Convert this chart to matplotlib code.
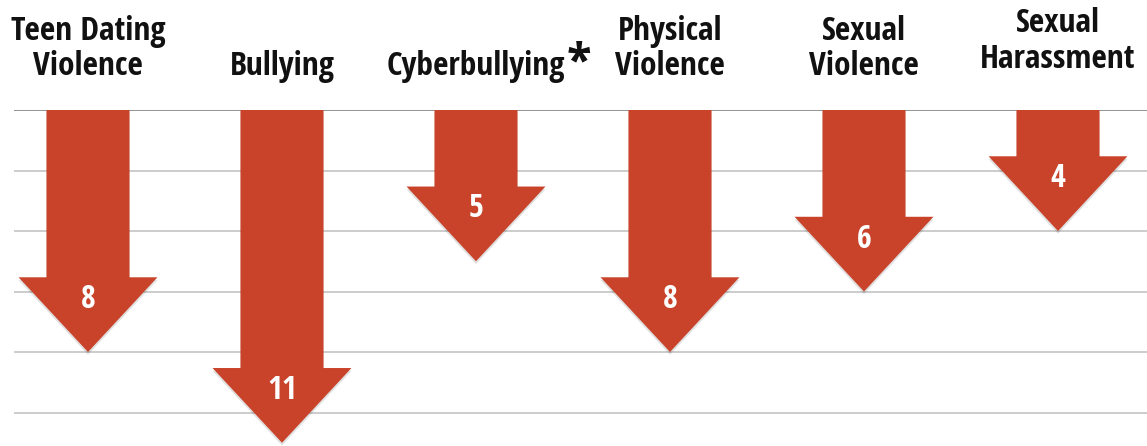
import matplotlib
matplotlib.use("Agg")
import matplotlib.pyplot as plt
import matplotlib.patheffects as pe
from matplotlib.patches import Polygon
from matplotlib import font_manager
import matplotlib.transforms as mtransforms

categories = ["Teen Dating\nViolence", "Bullying", "Cyberbullying", "Physical\nViolence",
              "Sexual\nViolence", "Sexual\nHarassment"]
values = [8, 11, 5, 8, 6, 4]
starred = [False, False, True, False, False, False]

ARROW = "#C9432A"

names = {f.name for f in font_manager.fontManager.ttflist}
font = "Open Sans Condensed" if "Open Sans Condensed" in names else "Open Sans"

fig = plt.figure(figsize=(11.47, 4.46), dpi=100)
W, H = 1147, 446
ax = fig.add_axes([14 / W, 0, 1 - 14 / W, (446 - 110) / H])

px_per_unit = 30.25
step = 194.0
ax.set_xlim(-74 / step, (1147 - 88) / step)
ax.set_ylim((446 - 110) / px_per_unit, 0)
ax.axis("off")

# horizontal grid, top one a bit darker
for g in range(0, 12, 2):
    ax.axhline(g, color="#8a8a8a" if g == 0 else "#c4c4c4", lw=1.3 if g == 0 else 1.2, zorder=0)

shaft = 0.214
head = 0.358
head_len = 2.47
shadow = [pe.SimplePatchShadow(offset=(0, -2), shadow_rgbFace="#000000", alpha=0.12), pe.Normal()]

for i, v in enumerate(values):
    hs = v - head_len
    pts = [(i - shaft, 0), (i + shaft, 0), (i + shaft, hs), (i + head, hs),
           (i, v), (i - head, hs), (i - shaft, hs)]
    p = Polygon(pts, closed=True, facecolor=ARROW, edgecolor="none", zorder=2)
    p.set_path_effects(shadow)
    ax.add_patch(p)
    ax.text(i, hs + 1.02, str(v), ha="center", va="baseline", color="white",
            fontsize=23, fontweight="bold", family=font, zorder=3)

trans = mtransforms.blended_transform_factory(ax.transData, fig.transFigure)
for i, c in enumerate(categories):
    base = 75 if i != 5 else 68
    ax.text(i, 1 - base / H, c, ha="center", va="baseline", transform=trans,
            fontsize=24, fontweight="bold", family=font, linespacing=1.1,
            color="#111111")
    if starred[i]:
        ax.text(i + 0.53, 1 - 81 / H, "*", ha="center", va="baseline", transform=trans,
                fontsize=38, fontweight="bold", family=font, color="#111111")

fig.savefig("out.png", dpi=100)
